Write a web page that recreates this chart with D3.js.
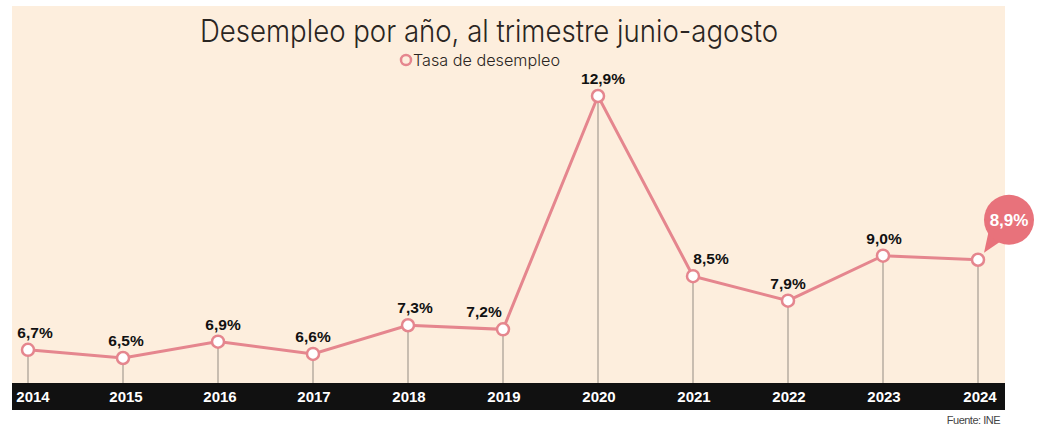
<!DOCTYPE html>
<html>
<head>
<meta charset="utf-8">
<script src="https://cdn.jsdelivr.net/npm/d3@7"></script>
<style>
  body { margin: 0; background: #fff; }
  svg { display: block; }
</style>
</head>
<body>
<div id="area"></div>
<script>
const years = ['2014', '2015', '2016', '2017', '2018', '2019', '2020', '2021', '2022', '2023', '2024'];
const rates = [6.7, 6.5, 6.9, 6.6, 7.3, 7.2, 12.9, 8.5, 7.9, 9.0, 8.9];
const labels = ['6,7%', '6,5%', '6,9%', '6,6%', '7,3%', '7,2%', '12,9%', '8,5%', '7,9%', '9,0%', '8,9%'];
// small nudges so the labels clear the line, like the original
const labelShift = [7, 3, 5, 0, 7, -19, 5, 18, 0, 1, 0];
const yearShift = [5, 3, 2, 1, 1, 1, 1, 1, 1, 1, 2];

let width = 1040, height = 425;
let bg_color = '#fdeedd',
    bar_color = '#111111',
    line_color = '#e5868e',
    callout_color = '#e8727b',
    drop_color = '#a69d93';

let svg = d3.select('#area').append('svg')
    .attr('width', width)
    .attr('height', height);

// panel + axis bar
svg.append('rect').attr('x', 12).attr('y', 6).attr('width', 993).attr('height', 377).attr('fill', bg_color);
svg.append('rect').attr('x', 12).attr('y', 383).attr('width', 993).attr('height', 27).attr('fill', bar_color);

let x = d3.scalePoint().domain(years).range([28, 978]);
let y = d3.scaleLinear().domain([6.5, 12.9]).range([358, 96]);

// title and legend
svg.append('text')
    .attr('x', 200).attr('y', 42)
    .attr('font-family', 'Inter, Lato, sans-serif')
    .attr('font-weight', 300)
    .attr('font-size', 31)
    .attr('textLength', 578)
    .attr('lengthAdjust', 'spacingAndGlyphs')
    .attr('fill', '#2a2522')
    .text('Desempleo por año, al trimestre junio-agosto');

svg.append('circle').attr('cx', 406).attr('cy', 60).attr('r', 5)
    .attr('fill', 'none').attr('stroke', line_color).attr('stroke-width', 2.5);
svg.append('text')
    .attr('x', 413).attr('y', 66)
    .attr('font-family', 'Inter, Lato, sans-serif')
    .attr('font-weight', 300)
    .attr('font-size', 16.5)
    .attr('textLength', 147)
    .attr('lengthAdjust', 'spacingAndGlyphs')
    .attr('fill', '#2a2522')
    .text('Tasa de desempleo');

// drop lines
svg.append('g').selectAll('line')
    .data(rates)
    .join('line')
    .attr('x1', (d, i) => x(years[i]))
    .attr('x2', (d, i) => x(years[i]))
    .attr('y1', d => y(d))
    .attr('y2', 383)
    .attr('stroke', drop_color)
    .attr('stroke-width', 1.2);

let line = d3.line()
    .x((d, i) => x(years[i]))
    .y(d => y(d));

svg.append('path')
    .datum(rates)
    .attr('d', line)
    .attr('fill', 'none')
    .attr('stroke', line_color)
    .attr('stroke-width', 3);

svg.append('g').selectAll('circle')
    .data(rates)
    .join('circle')
    .attr('cx', (d, i) => x(years[i]))
    .attr('cy', d => y(d))
    .attr('r', 6)
    .attr('fill', '#fff')
    .attr('stroke', line_color)
    .attr('stroke-width', 2.5);

// value labels (last one goes in the bubble)
svg.append('g').selectAll('text')
    .data(rates.slice(0, -1))
    .join('text')
    .attr('x', (d, i) => x(years[i]) + labelShift[i])
    .attr('y', d => y(d) - 12)
    .attr('text-anchor', 'middle')
    .attr('font-family', 'Liberation Sans, Arial, sans-serif')
    .attr('font-weight', 'bold')
    .attr('font-size', 15.5)
    .attr('fill', '#111')
    .text((d, i) => labels[i]);

// callout bubble for 2024
let last = rates.length - 1;
let px = x(years[last]), py = y(rates[last]);
let bx = px + 31, by = py - 40;
let bubble = svg.append('g');
bubble.append('path')
    .attr('d', `M${bx - 20},${by + 10} L${px + 6},${py - 7} L${bx - 6},${by + 20} Z`)
    .attr('fill', callout_color);
bubble.append('circle')
    .attr('cx', bx).attr('cy', by).attr('r', 25)
    .attr('fill', callout_color);
bubble.append('text')
    .attr('x', bx).attr('y', by + 6)
    .attr('text-anchor', 'middle')
    .attr('font-family', 'Liberation Sans, Arial, sans-serif')
    .attr('font-weight', 'bold')
    .attr('font-size', 17)
    .attr('fill', '#fff')
    .text(labels[last]);

// year labels on the dark bar
svg.append('g').selectAll('text')
    .data(years)
    .join('text')
    .attr('x', (d, i) => x(d) + yearShift[i])
    .attr('y', 402)
    .attr('text-anchor', 'middle')
    .attr('font-family', 'Liberation Sans, Arial, sans-serif')
    .attr('font-weight', 'bold')
    .attr('font-size', 15)
    .attr('fill', '#fff')
    .text(d => d);

svg.append('text')
    .attr('x', 1000).attr('y', 424)
    .attr('text-anchor', 'end')
    .attr('font-family', 'Liberation Sans, Arial, sans-serif')
    .attr('font-size', 11)
    .attr('letter-spacing', -0.5)
    .attr('fill', '#444')
    .text('Fuente: INE');
</script>
</body>
</html>
